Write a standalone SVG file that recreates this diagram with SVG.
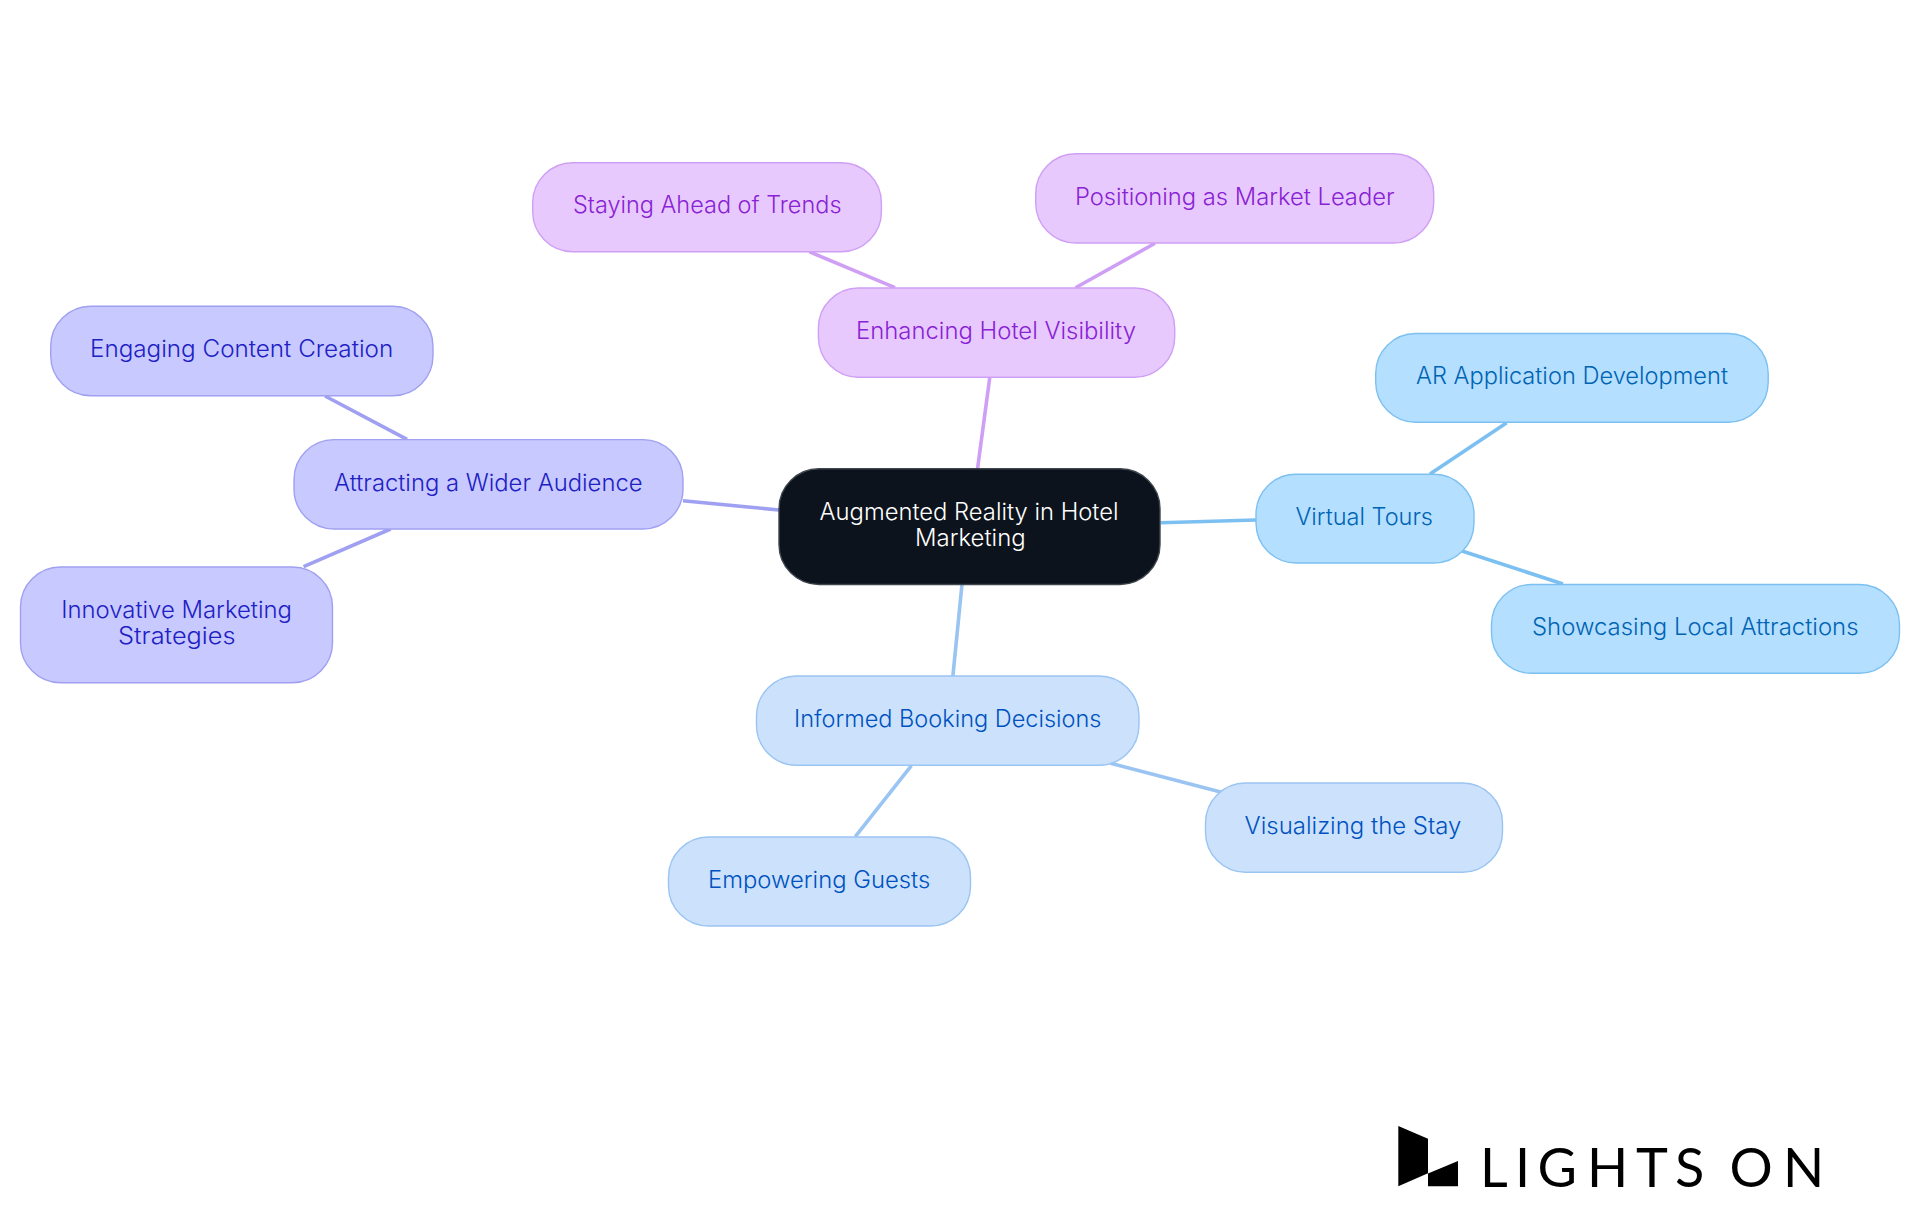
<svg xmlns="http://www.w3.org/2000/svg" width="1920" height="1215" viewBox="0 0 1920 1215">
<style>
text{font-family:"Inter","Noto Sans",sans-serif;font-size:23.5px;font-weight:300}
.n{stroke-width:1.4}
.e{fill:none;stroke-width:3.6}
.sky rect{fill:#b5dffe;stroke:#7cc0f2}.sky text{fill:#0064b4}
.blu rect{fill:#cce2fc;stroke:#9ac4f2}.blu text{fill:#0052c0}
.ind rect{fill:#c8c9fe;stroke:#a0a0f2}.ind text{fill:#2020c4}
.pur rect{fill:#e8c9fd;stroke:#cf9ff5}.pur text{fill:#8822d4}
.ctr rect{fill:#0c131c;stroke:#3f454d}.ctr text{fill:#fff}
text.logo{font-family:"Lato","Open Sans",sans-serif;font-size:54px;font-weight:400;fill:#000}
</style>
<rect width="1920" height="1215" fill="#fff"/>
<g id="connectors">
<path class="e" stroke="#7cc0f2" d="M1160.7 522.7L1256 520M1506.7 422.7L1430 474M1462 551L1563 584"/>
<path class="e" stroke="#9ac4f2" d="M962 584.3L952.9 676M911.4 765.7L855.3 836.7M1110.6 763.3L1221.6 792.3"/>
<path class="e" stroke="#a0a0f2" d="M779 510L683 500.7M325 396L407 439.3M390.6 529L303.6 566.7"/>
<path class="e" stroke="#cf9ff5" d="M989.8 377.3L977.6 468.3M809.2 251.7L895 287.7M1155 243.3L1075.5 287.7"/>
</g>
<g id="center" class="ctr"><rect class="n" x="779" y="468.8" width="381" height="115.7" rx="40"/>
<text x="819.6" y="519.8" textLength="299" lengthAdjust="spacingAndGlyphs">Augmented Reality in Hotel</text>
<text x="915" y="545.8" textLength="110.7" lengthAdjust="spacingAndGlyphs">Marketing</text></g>
<g id="virtual-tours" class="sky"><rect class="n" x="1256" y="474.2" width="218" height="88.8" rx="40"/>
<text x="1295.5" y="525" textLength="137.5" lengthAdjust="spacingAndGlyphs">Virtual Tours</text></g>
<g id="ar-app" class="sky"><rect class="n" x="1375.7" y="333.5" width="392.5" height="88.7" rx="40"/>
<text x="1416" y="384" textLength="312" lengthAdjust="spacingAndGlyphs">AR Application Development</text></g>
<g id="showcasing" class="sky"><rect class="n" x="1491.5" y="584.5" width="408" height="88.8" rx="40"/>
<text x="1532" y="635" textLength="326.5" lengthAdjust="spacingAndGlyphs">Showcasing Local Attractions</text></g>
<g id="informed" class="blu"><rect class="n" x="756.5" y="676" width="382.5" height="89.3" rx="40"/>
<text x="794" y="726.7" textLength="307.5" lengthAdjust="spacingAndGlyphs">Informed Booking Decisions</text></g>
<g id="empowering" class="blu"><rect class="n" x="668.5" y="837" width="302" height="89" rx="40"/>
<text x="708" y="887.7" textLength="222.3" lengthAdjust="spacingAndGlyphs">Empowering Guests</text></g>
<g id="visualizing" class="blu"><rect class="n" x="1205.5" y="783" width="297" height="89.3" rx="40"/>
<text x="1244.6" y="834.3" textLength="216.8" lengthAdjust="spacingAndGlyphs">Visualizing the Stay</text></g>
<g id="attracting" class="ind"><rect class="n" x="294" y="439.6" width="389" height="89.4" rx="40"/>
<text x="334" y="490.5" textLength="308.5" lengthAdjust="spacingAndGlyphs">Attracting a Wider Audience</text></g>
<g id="engaging" class="ind"><rect class="n" x="50.7" y="306.3" width="382.3" height="89.4" rx="40"/>
<text x="90" y="357" textLength="303.2" lengthAdjust="spacingAndGlyphs">Engaging Content Creation</text></g>
<g id="innovative" class="ind"><rect class="n" x="20.5" y="567" width="312" height="115.7" rx="40"/>
<text x="61.2" y="618.3" textLength="230.8" lengthAdjust="spacingAndGlyphs">Innovative Marketing</text>
<text x="118" y="644" textLength="117.5" lengthAdjust="spacingAndGlyphs">Strategies</text></g>
<g id="enhancing" class="pur"><rect class="n" x="818.4" y="288" width="356.3" height="89.3" rx="40"/>
<text x="856" y="339" textLength="280" lengthAdjust="spacingAndGlyphs">Enhancing Hotel Visibility</text></g>
<g id="staying" class="pur"><rect class="n" x="532.7" y="162.8" width="348.7" height="88.9" rx="40"/>
<text x="573" y="212.7" textLength="268.5" lengthAdjust="spacingAndGlyphs">Staying Ahead of Trends</text></g>
<g id="positioning" class="pur"><rect class="n" x="1035.7" y="153.8" width="398" height="89.2" rx="40"/>
<text x="1075" y="205" textLength="319.5" lengthAdjust="spacingAndGlyphs">Positioning as Market Leader</text></g>
<g id="logo">
<polygon points="1398.3,1126 1428,1138.7 1428,1173.3 1398.3,1186.3"/>
<polygon points="1428,1173.6 1458,1161 1458,1186.3 1428,1186.3"/>
<text class="logo" x="1480 1515 1537.5 1587 1636 1675 1710 1729.5 1783" y="1186.5">LIGHTS ON</text>
</g>
</svg>
